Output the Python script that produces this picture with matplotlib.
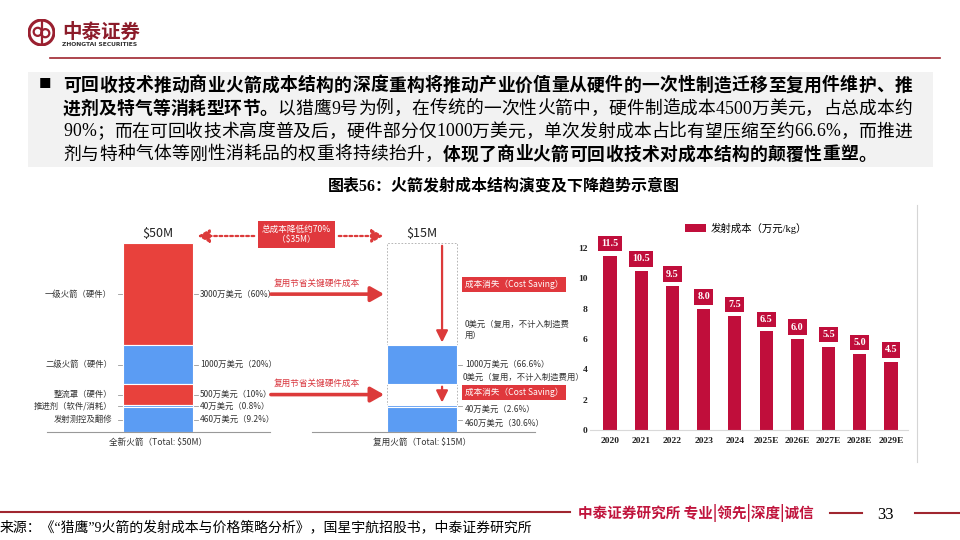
import numpy as np
import matplotlib
matplotlib.use('Agg')
import matplotlib.pyplot as plt
from matplotlib.font_manager import FontProperties
from matplotlib.patches import Circle, Rectangle

# ---------------- data ----------------
# left schematic (万美元), listed top -> bottom
part_names = ['一级火箭（硬件）', '二级火箭（硬件）', '整流罩（硬件）', '推进剂（软件/消耗）', '发射测控及翻修']
cost_new = [3000, 1000, 500, 40, 460]
cost_new_labels = ['3000万美元（60%）', '1000万美元（20%）', '500万美元（10%）', '40万美元（0.8%）', '460万美元（9.2%）']
cost_reuse = [0, 1000, 0, 40, 460]
cost_reuse_labels = ['0美元（复用，不计入制造费\n用）', '1000万美元（66.6%）', '0美元（复用，不计入制造费用）',
                     '40万美元（2.6%）', '460万美元（30.6%）']
bar_titles = ['$50M', '$15M']
bar_names = ['全新火箭（Total: $50M）', '复用火箭（Total: $15M）']

# right chart
years = ['2020', '2021', '2022', '2023', '2024', '2025E', '2026E', '2027E', '2028E', '2029E']
launch_cost = [11.5, 10.5, 9.5, 8.0, 7.5, 6.5, 6.0, 5.5, 5.0, 4.5]
legend_label = '发射成本（万元/kg）'

title = '图表56：火箭发射成本结构演变及下降趋势示意图'
body_lines = [
    [('可回收技术推动商业火箭成本结构的深度重构将推动产业价值量从硬件的一次性制造迁移至复用件维护、推', True)],
    [('进剂及特气等消耗型环节。', True), ('以猎鹰9号为例，在传统的一次性火箭中，硬件制造成本4500万美元，占总成本约', False)],
    [('90%；而在可回收技术高度普及后，硬件部分仅1000万美元，单次发射成本占比有望压缩至约66.6%，而推进', False)],
    [('剂与特种气体等刚性消耗品的权重将持续抬升，', False), ('体现了商业火箭可回收技术对成本结构的颠覆性重塑。', True)],
]
source = '来源：《“猎鹰”9火箭的发射成本与价格策略分析》，国星宇航招股书，中泰证券研究所'

# ---------------- style ----------------
RED = '#e8413c'
BLUE = '#5b9cf3'
BOXRED = '#e0383d'
ARROW = '#dc3a3a'
CRIMSON = '#c00e3b'
MAROON = '#9a2030'
SANS = ['Noto Sans CJK SC', 'DejaVu Sans']
SERIF = ['Liberation Serif', 'Noto Sans CJK SC']
plt.rcParams['font.family'] = SANS

W, H = 960, 540
def fx(x): return x / W
def fy(y): return 1 - y / H

fig = plt.figure(figsize=(9.6, 5.4), dpi=100)
fig.patch.set_facecolor('white')

# ---------------- header ----------------
lax = fig.add_axes([fx(28), fy(46), 27 / W, 27 / H])
lax.set_xlim(-1, 1); lax.set_ylim(-1, 1); lax.set_aspect('equal'); lax.axis('off')
lax.add_patch(Circle((0, 0), 0.92, fc='none', ec=MAROON, lw=2.2))
lax.add_patch(Circle((-0.28, 0.05), 0.3, fc='none', ec=MAROON, lw=1.6))
lax.add_patch(Circle((0.28, -0.05), 0.3, fc='none', ec=MAROON, lw=1.6))
lax.plot([0, 0], [-0.85, 0.85], color=MAROON, lw=1.6)
fig.text(fx(62), fy(32), '中泰证券', fontsize=14, fontweight='bold', color='#8c1c2a', va='center', ha='left')
fig.text(fx(62), fy(44), 'ZHONGTAI SECURITIES', fontsize=4.3, fontweight='bold', color='#333333',
         va='center', ha='left', family='DejaVu Sans')
fig.add_artist(plt.Line2D([fx(50), fx(940)], [fy(58), fy(58)], color='#a0262f', lw=1.2))

# ---------------- text block ----------------
fig.add_artist(Rectangle((fx(28), fy(167)), fx(933) - fx(28), (167 - 72) / H, fc='#f2f2f2', ec='none'))
fig.text(fx(45), fy(84), '■', fontsize=9, va='center', ha='center', color='black', family=SANS)

fig.canvas.draw()
renderer = fig.canvas.get_renderer()
BODY_SIZE = 12.8
props = {False: FontProperties(family=SERIF, size=BODY_SIZE, weight='normal'),
         True: FontProperties(family=SERIF, size=BODY_SIZE, weight='bold')}

def cw(ch, b):
    w, h, d = renderer.get_text_width_height_descent(ch, props[b], ismath=False)
    return w

x0, x1 = 63, 912
baselines = [90.5, 113.5, 136.5, 159.5]
gaps = []
for li, line in enumerate(body_lines):
    chars = [(ch, b) for txt, b in line for ch in txt]
    widths = [cw(ch, b) for ch, b in chars]
    if li < len(body_lines) - 1:
        gap = (x1 - x0 - sum(widths)) / (len(chars) - 1)
        gaps.append(gap)
    else:
        gap = gaps[0]
    x = x0
    for (ch, b), w in zip(chars, widths):
        fig.text(fx(x), fy(baselines[li]), ch, fontproperties=props[b], va='baseline', ha='left', color='black')
        x += w + gap

fig.text(fx(504), fy(186), title, fontsize=11.5, fontweight='bold', ha='center', va='center',
         family=SERIF, color='black')

# ---------------- left schematic ----------------
ax = fig.add_axes([fx(10), fy(462), (565 - 10) / W, (462 - 205) / H])
P = 0.85
def fwd(y):
    y = np.asarray(y, dtype=float)
    return np.sign(y) * np.abs(y) ** P
def inv(t):
    t = np.asarray(t, dtype=float)
    return np.sign(t) * np.abs(t) ** (1 / P)
ax.set_yscale('function', functions=(fwd, inv))
total = sum(cost_new)
T_tot = float(fwd(total))
pxper = 189 / T_tot
ax.set_ylim(float(inv(-(462 - 432) / pxper)), float(inv(T_tot + (243 - 205) / pxper)))
ax.set_xlim(-(158 - 10) / 264, 1 + (565 - 422) / 264)
ax.axis('off')

bw = 70 / 264
seg_colors = [RED, BLUE, RED, BLUE, BLUE]
# stack bottom -> top
bottoms = []
acc = 0
for v in cost_new[::-1]:
    bottoms.append(acc)
    acc += v
bottoms = bottoms[::-1]  # aligned to top->bottom order

def mid(b, h):
    return float(inv((fwd(b) + fwd(b + h)) / 2))

txt_kw = dict(fontsize=6, color='#333333', va='center')
for v, b, c, nm, lb in zip(cost_new, bottoms, seg_colors, part_names, cost_new_labels):
    ax.bar(0, v, bottom=b, width=bw, color=c, edgecolor='white', linewidth=0.8)
    ym = mid(b, v)
    ax.text(-0.174, ym, nm, ha='right', **txt_kw)
    ax.plot([-0.152, -0.136], [ym, ym], color='#999999', lw=0.6)
    ax.plot([0.136, 0.152], [ym, ym], color='#999999', lw=0.6)
    ax.text(0.159, ym, lb, ha='left', **txt_kw)

# reused rocket: ghost outline of full structure
ax.bar(1, total, width=bw, fill=False, edgecolor='#aaaaaa', linestyle=(0, (2, 2)), linewidth=0.6)
for i, (v, b, lb) in enumerate(zip(cost_reuse, bottoms, cost_reuse_labels)):
    if v > 0:
        ax.bar(1, v, bottom=b, width=bw, color=BLUE, edgecolor='white', linewidth=0.8)
        ym = mid(b, v)
        dy = -2.5 if i >= 3 else 0
        ax.plot([1.136, 1.152], [ym, ym], color='#999999', lw=0.6)
        ax.annotate(lb, (1.163, ym), xytext=(0, dy), textcoords='offset points', ha='left',
                    fontsize=6, color='#333333', va='center')

# zero-cost labels
ax.annotate(cost_reuse_labels[0], (1.163, bottoms[0]), xytext=(0, 4), textcoords='offset points',
            ha='left', fontsize=6, color='#333333', va='bottom', linespacing=1.25)
ax.annotate(cost_reuse_labels[2], (1.152, bottoms[1]), xytext=(0, 4.5), textcoords='offset points',
            ha='left', va='center', fontsize=6, color='#333333')

box_kw = dict(fontsize=6.2, color='white', ha='left', va='center',
              bbox=dict(boxstyle='square,pad=0.35', fc=BOXRED, ec='none'))
y_stage1 = mid(bottoms[0], cost_new[0])
y_fair = mid(bottoms[2], cost_new[2])
ax.annotate('成本消失（Cost Saving）', (1.163, y_stage1), xytext=(0, 7), textcoords='offset points', **box_kw)
ax.annotate('成本消失（Cost Saving）', (1.163, y_fair), xytext=(0, 1.5), textcoords='offset points', **box_kw)

# vertical arrows inside reused bar
ax.annotate('', xy=(1.076, bottoms[0]), xytext=(1.076, total),
            arrowprops=dict(arrowstyle='-|>,head_width=0.35,head_length=0.7', lw=1.6, color=ARROW))
ax.annotate('', xy=(1.076, bottoms[2]), xytext=(1.076, bottoms[1]),
            arrowprops=dict(arrowstyle='-|>,head_width=0.35,head_length=0.7', lw=1.6, color=ARROW))

# horizontal arrows between bars
for yy in (y_stage1, y_fair):
    ax.annotate('', xy=(0.867, yy), xytext=(0.417, yy),
                arrowprops=dict(arrowstyle='-|>,head_width=0.45,head_length=0.8', lw=2.6, color=ARROW))
    ax.annotate('复用节省关键硬件成本', (0.439, yy), xytext=(0, 8), textcoords='offset points',
                ha='left', va='center', fontsize=6.2, color='#d9363e')

# titles above bars
for i, t in enumerate(bar_titles):
    ax.annotate(t, (i, total), xytext=(0, 2.5), textcoords='offset points', ha='center', va='bottom',
                fontsize=9, color='#222222')
    ax.annotate(bar_names[i], (i, 0), xytext=(0, -4), textcoords='offset points', ha='center', va='top',
                fontsize=6.2, color='#333333')

# baselines
ax.plot([-(158 - 47) / 264, (270 - 158) / 264], [0, 0], color='#999999', lw=0.8)
ax.plot([(312 - 158) / 264, (535 - 158) / 264], [0, 0], color='#999999', lw=0.8)

# total cost reduction box and dotted arrows
xt = ax.get_xaxis_transform()
ax.text((296 - 158) / 264, (462 - 234.5) / 257, '总成本降低约70%\n（$35M）', transform=xt, ha='center',
        va='center', fontsize=6.2, color='white', linespacing=1.2,
        bbox=dict(boxstyle='square,pad=0.45', fc=BOXRED, ec='none'))
ya = (462 - 236) / 257
ax.annotate('', xy=((195 - 158) / 264, ya), xytext=((257 - 158) / 264, ya), xycoords=xt, textcoords=xt,
            arrowprops=dict(arrowstyle='-|>,head_width=0.4,head_length=0.7', lw=1.6, ls=(0, (1.2, 1.2)),
                            color=ARROW))
ax.annotate('', xy=((386 - 158) / 264, ya), xytext=((336 - 158) / 264, ya), xycoords=xt, textcoords=xt,
            arrowprops=dict(arrowstyle='-|>,head_width=0.4,head_length=0.7', lw=1.6, ls=(0, (1.2, 1.2)),
                            color=ARROW))

# ---------------- right bar chart ----------------
ax2 = fig.add_axes([fx(590), fy(430), (908 - 590) / W, (430 - 215) / H])
xs = np.arange(len(years))
ax2.bar(xs, launch_cost, width=0.42, color=CRIMSON, label=legend_label)
pxu = (891 - 610) / 9
ax2.set_xlim(-(610 - 590) / pxu, len(years) - 1 + (908 - 891) / pxu)
pyu = (430 - 248) / 12
ax2.set_ylim(0, (430 - 215) / pyu)
ax2.set_yticks(np.arange(0, 13, 2))
ax2.set_xticks(xs)
ax2.set_xticklabels(years)
for lbl in ax2.get_xticklabels() + ax2.get_yticklabels():
    lbl.set_fontfamily(SERIF)
    lbl.set_fontweight('bold')
    lbl.set_fontsize(6.8)
    lbl.set_color('#222222')
ax2.tick_params(axis='both', length=0)
ax2.tick_params(axis='x', pad=5)
ax2.tick_params(axis='y', pad=2)
for s in ['top', 'right', 'left']:
    ax2.spines[s].set_visible(False)
ax2.spines['bottom'].set_color('#d9d9d9')
ax2.spines['bottom'].set_linewidth(0.8)
for x, v in zip(xs, launch_cost):
    ax2.annotate(f'{v:.1f}', (x, v), xytext=(0, 8.5), textcoords='offset points', ha='center', va='center',
                 color='white', fontweight='bold', fontsize=7.2, family=SERIF,
                 bbox=dict(boxstyle='square,pad=0.32', fc=CRIMSON, ec='none'))
leg = ax2.legend(loc='center left', bbox_to_anchor=(fx(685), fy(228)), bbox_transform=fig.transFigure,
                 frameon=False, borderaxespad=0, borderpad=0, handlelength=2.0, handleheight=0.8,
                 handletextpad=0.5, prop=FontProperties(family=SERIF, size=7.5))
fig.add_artist(plt.Line2D([fx(917), fx(917)], [fy(205), fy(462)], color='#d5d5d5', lw=0.8))

# ---------------- footer ----------------
fig.add_artist(plt.Line2D([0, fx(570)], [fy(512), fy(512)], color='#a0262f', lw=1.5))
fig.text(fx(578), fy(513), '中泰证券研究所 专业|领先|深度|诚信', fontsize=10.5, color='#c0143c',
         ha='left', va='center', fontweight='bold')
fig.add_artist(plt.Line2D([fx(830), fx(862)], [fy(513), fy(513)], color='#a0262f', lw=1.5))
fig.text(fx(885), fy(515), '33', fontsize=12, family=SERIF, ha='center', va='center', color='black')
fig.add_artist(plt.Line2D([fx(915), fx(960)], [fy(513), fy(513)], color='#a0262f', lw=1.5))
fig.text(fx(0), fy(527), source, fontsize=10, family=SERIF, ha='left', va='center', color='black')

fig.savefig('out.png', dpi=100)
